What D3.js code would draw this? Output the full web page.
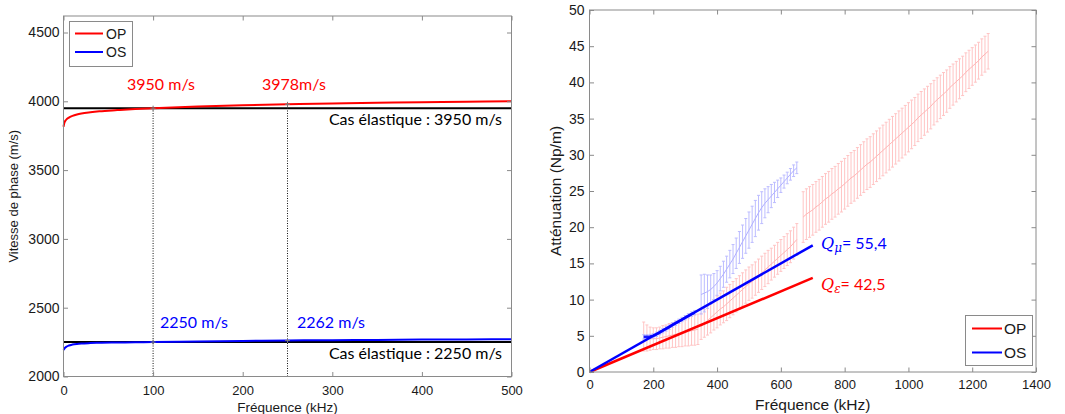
<!DOCTYPE html>
<html><head><meta charset="utf-8">
<script src="https://cdn.jsdelivr.net/npm/d3@7"></script>
<style>body{margin:0;background:#fff} svg{display:block}</style>
</head><body>
<svg id="c" width="1065" height="414"></svg>
<script>
// ---------- Left chart data (phase velocity) ----------
const velFreq = [0,1,3,6,10,15,20,30,40,60,80,100,150,200,250,300,350,400,450,500];
const velOP   = [3815,3845,3866,3882,3894,3904,3911,3920,3927,3936,3944,3950,3962,3971,3978,3984,3989,3993,3997,4000];
const velOS   = [2192,2203,2215,2225,2232,2237,2240,2243,2245,2247,2249,2250,2254,2258,2262,2264,2266,2268,2269,2271];
const elasticVals = [3950, 2250];
const elasticLabels = ["Cas élastique : 3950 m/s", "Cas élastique : 2250 m/s"];
const markFreq = [100, 250];
const markOP = [3950, 3978];
const markOS = [2250, 2262];
const markOPLabels = ["3950 m/s", "3978m/s"];
const markOSLabels = ["2250 m/s", "2262 m/s"];
const leftXTicks = [0,100,200,300,400,500];
const leftYTicks = [2000,2500,3000,3500,4000,4500];
const seriesNames = ["OP","OS"];

// ---------- Right chart data (attenuation) ----------
const opF1 = [170,180,190,200,210,220,230,240,250,260,270,280,290,300,310,320,330,340];
const opM1 = [4.9,4.7,4.6,4.6,4.6,4.7,4.8,4.9,5.0,5.1,5.2,5.3,5.4,5.5,5.6,5.7,5.8,5.9];
const opE1 = [2.0,1.8,1.6,1.5,1.5,1.5,1.6,1.6,1.7,1.7,1.8,1.8,1.9,1.9,2.0,2.0,2.1,2.1];
const opF2 = [350,360,370,380,390,400,410,420,430,440,450,460,470,480,490,500,510,520,530,540,550,560,570,580,590,600,610,620,630,640,650];
const opM2 = [6.3,6.7,7.1,7.5,7.9,8.3,8.7,9.0,9.4,9.8,10.2,10.6,11.0,11.4,11.8,12.2,12.5,12.9,13.3,13.7,14.1,14.5,14.9,15.3,15.7,16.1,16.5,16.9,17.3,17.8,18.3];
const opE2 = [1.8,1.9,2.0,2.1,2.1,2.2,2.2,2.2,2.3,2.3,2.3,2.3,2.3,2.3,2.3,2.3,2.3,2.3,2.3,2.3,2.3,2.3,2.2,2.2,2.2,2.2,2.2,2.2,2.2,2.2,2.2];
const opF3 = [670,680,690,700,710,720,730,740,750,760,770,780,790,800,810,820,830,840,850,860,870,880,890,900,910,920,930,940,950,960,970,980,990,1000,1010,1020,1030,1040,1050,1060,1070,1080,1090,1100,1110,1120,1130,1140,1150,1160,1170,1180,1190,1200,1210,1220,1230,1240,1250];
const opM3 = [21.4,21.8,22.1,22.4,22.8,23.1,23.5,23.9,24.2,24.6,24.9,25.3,25.6,26.0,26.4,26.8,27.1,27.5,27.9,28.3,28.7,29.0,29.4,29.8,30.2,30.6,31.0,31.4,31.8,32.2,32.6,33.0,33.4,33.8,34.2,34.6,35.1,35.5,35.9,36.3,36.7,37.2,37.6,38.0,38.4,38.8,39.3,39.7,40.1,40.5,40.9,41.4,41.8,42.2,42.6,43.0,43.5,43.9,44.3];
const opE3 = [3.5,3.5,3.5,3.5,3.5,3.5,3.5,3.5,3.5,3.5,3.5,3.5,3.5,3.5,3.5,3.5,3.5,3.5,3.5,3.5,3.5,3.5,3.5,3.5,3.5,3.5,3.5,3.5,3.5,3.48,3.46,3.44,3.42,3.4,3.36,3.32,3.28,3.24,3.2,3.16,3.12,3.08,3.04,3.0,2.96,2.92,2.88,2.84,2.8,2.76,2.72,2.68,2.64,2.6,2.57,2.54,2.51,2.48,2.45];
const osF1 = [170,180,190,200,210,220,230,240,250,260,270,280,290,300,310,320,330];
const osM1 = [4.85,4.85,4.9,5.0,5.2,5.45,5.7,5.95,6.2,6.5,6.75,7.0,7.25,7.5,7.75,8.0,8.2];
const osE1 = [0.3,0.3,0.3,0.3,0.3,0.3,0.3,0.3,0.3,0.3,0.3,0.3,0.3,0.3,0.3,0.3,0.3];
const osF2 = [350,360,370,380,390,400,410,420,430,440,450,460,470,480,490,500,510,520,530,540,550,560,570,580,590,600,610,620,630,640,650];
const osM2 = [10.7,10.9,11.1,11.4,11.8,12.3,12.9,13.5,14.2,14.9,15.6,16.4,17.2,18.0,18.8,19.6,20.4,21.2,22.0,22.7,23.3,23.8,24.3,24.8,25.3,25.8,26.3,26.8,27.3,27.8,28.2];
const osE2 = [2.7,2.6,2.3,2.0,1.8,1.7,1.7,1.8,1.8,1.9,2.0,2.1,2.2,2.3,2.4,2.5,2.5,2.5,2.4,2.2,2.0,1.8,1.6,1.4,1.2,1.0,0.9,0.8,0.8,0.8,0.8];
const fitF = [0, 700];
const fitOP = [0, 13.0];
const fitOS = [0, 17.5];
const qLabels = [{q:"ε", val:"= 42,5"}, {q:"μ", val:"= 55,4"}];
const rightXTicks = [0,200,400,600,800,1000,1200,1400];
const rightYTicks = [0,5,10,15,20,25,30,35,40,45,50];

const RED = "#ff0000", BLUE = "#0000ff", AX = "#8a8a8a";
const svg = d3.select("#c");
const tickFont = "'Liberation Sans', Arial, sans-serif";
const annoFont = "Lato, 'Open Sans', sans-serif";
const fmt = d3.format("d");

function frame(g, x, y, xt, yt, xPad, yPad, xFs, yFs) {
  const [x0,x1] = x.range(), [y1,y0] = y.range();
  const bx = g.append("g").attr("transform",`translate(0,${y1})`)
    .call(d3.axisBottom(x).tickValues(xt).tickFormat(fmt).tickSize(-4.5).tickSizeOuter(0).tickPadding(xPad));
  const tx = g.append("g").attr("transform",`translate(0,${y0})`)
    .call(d3.axisTop(x).tickValues(xt).tickSize(-4.5).tickSizeOuter(0).tickFormat(""));
  const ly = g.append("g").attr("transform",`translate(${x0},0)`)
    .call(d3.axisLeft(y).tickValues(yt).tickFormat(fmt).tickSize(-4.5).tickSizeOuter(0).tickPadding(yPad));
  const ry = g.append("g").attr("transform",`translate(${x1},0)`)
    .call(d3.axisRight(y).tickValues(yt).tickSize(-4.5).tickSizeOuter(0).tickFormat(""));
  [bx,tx,ly,ry].forEach(a => {
    a.attr("font-family", tickFont);
    a.selectAll("path.domain").remove();
    a.selectAll("line").attr("stroke", AX);
    a.selectAll("text").attr("fill","#1a1a1a");
  });
  bx.attr("font-size", xFs);
  ly.attr("font-size", yFs);
  g.append("rect").attr("x",x0).attr("y",y0).attr("width",x1-x0).attr("height",y1-y0)
    .attr("fill","none").attr("stroke",AX).attr("stroke-width",1);
}

// ================= LEFT CHART =================
{
  const x = d3.scaleLinear().domain([0,500]).range([63.5,511.5]);
  const y = d3.scaleLinear().domain([2000,4620]).range([376.5,16]);
  const g = svg.append("g");
  const line = d3.line().x((d,i)=>x(velFreq[i])).y(d=>y(d)).curve(d3.curveMonotoneX);

  elasticVals.forEach(v => {
    g.append("line").attr("x1",x(0)).attr("x2",x(500)).attr("y1",y(v)).attr("y2",y(v))
      .attr("stroke","#000").attr("stroke-width",2);
  });
  markFreq.forEach((f,i) => {
    g.append("line").attr("x1",x(f)).attr("x2",x(f)).attr("y1",y(2000)).attr("y2",y(markOP[i]))
      .attr("stroke","#111").attr("stroke-width",1).attr("stroke-dasharray","1,1.5");
  });
  g.append("path").attr("d",line(velOP)).attr("fill","none").attr("stroke",RED).attr("stroke-width",2);
  g.append("path").attr("d",line(velOS)).attr("fill","none").attr("stroke",BLUE).attr("stroke-width",2);
  const marks = [];
  markFreq.forEach((f,i)=>{ marks.push([f,markOP[i]]); marks.push([f,markOS[i]]); });
  marks.forEach(([f,v])=>{
    g.append("path").attr("d",`M${x(f)-2.5},${y(v)}h5M${x(f)},${y(v)-2.5}v5`)
      .attr("stroke","#777").attr("stroke-width",1);
  });
  frame(g, x, y, leftXTicks, leftYTicks, 9, 4, "13px", "14px");

  const opLabelX = [127, 262], osLabelX = [160, 297];
  markOPLabels.forEach((t,i)=> g.append("text").attr("x",opLabelX[i]).attr("y",90)
    .attr("fill",RED).attr("font-family",annoFont).attr("font-size","16px").text(t));
  markOSLabels.forEach((t,i)=> g.append("text").attr("x",osLabelX[i]).attr("y",328)
    .attr("fill",BLUE).attr("font-family",annoFont).attr("font-size","16px").text(t));
  const elY = [124.5, 358.5];
  elasticLabels.forEach((t,i)=> g.append("text").attr("x",502).attr("y",elY[i]).attr("text-anchor","end")
    .attr("fill","#000").attr("font-family",annoFont).attr("font-size","16px").text(t));

  g.append("text").attr("x",x(250)).attr("y",412).attr("text-anchor","middle")
    .attr("font-family",tickFont).attr("font-size","13.5px").attr("fill","#1a1a1a").text("Fréquence (kHz)");
  g.append("text").attr("transform",`translate(18,${(16+376.5)/2}) rotate(-90)`).attr("text-anchor","middle")
    .attr("font-family",tickFont).attr("font-size","13px").attr("fill","#1a1a1a").text("Vitesse de phase (m/s)");

  g.append("rect").attr("x",69.5).attr("y",21.5).attr("width",63).attr("height",45)
    .attr("fill","#fff").attr("stroke",AX);
  [RED,BLUE].forEach((c,i)=>{
    const yy = 33.5 + i*18.5;
    g.append("line").attr("x1",75).attr("x2",103).attr("y1",yy).attr("y2",yy).attr("stroke",c).attr("stroke-width",2);
    g.append("text").attr("x",106).attr("y",yy+5).attr("font-family",tickFont).attr("font-size","14px")
      .attr("fill","#1a1a1a").text(seriesNames[i]);
  });
}

// ================= RIGHT CHART =================
{
  const x = d3.scaleLinear().domain([0,1400]).range([589.5,1036]);
  const y = d3.scaleLinear().domain([0,50]).range([372,10]);
  const g = svg.append("g");

  function errSeg(F, M, E, barCol, lineCol, lineW) {
    const sg = g.append("g");
    F.forEach((f,i)=>{
      const xx = x(f), yt = y(M[i]+E[i]), yb = y(M[i]-E[i]);
      sg.append("line").attr("x1",xx).attr("x2",xx).attr("y1",yt).attr("y2",yb)
        .attr("stroke",barCol).attr("stroke-width",1);
      sg.append("line").attr("x1",xx-1.5).attr("x2",xx+1.5).attr("y1",yt).attr("y2",yt)
        .attr("stroke",barCol).attr("stroke-width",1);
      sg.append("line").attr("x1",xx-1.5).attr("x2",xx+1.5).attr("y1",yb).attr("y2",yb)
        .attr("stroke",barCol).attr("stroke-width",1);
    });
    const ln = d3.line().x((d,i)=>x(F[i])).y(d=>y(d));
    sg.append("path").attr("d",ln(M)).attr("fill","none").attr("stroke",lineCol).attr("stroke-width",lineW);
  }
  const pinkBar = "#ffc4c4", pinkLine = "#ffb4b4";
  const lbBar = "#bcbcff", lbLine = "#b0b0ff";
  errSeg(opF1, opM1, opE1, pinkBar, pinkLine, 1);
  errSeg(opF2, opM2, opE2, pinkBar, pinkLine, 1);
  errSeg(opF3, opM3, opE3, pinkBar, pinkLine, 1);
  errSeg(osF2, osM2, osE2, lbBar, lbLine, 1);
  errSeg(osF1, osM1, osE1, lbBar, "#1a1aff", 2.6);

  const fl = d3.line().x((d,i)=>x(fitF[i])).y(d=>y(d));
  g.append("path").attr("d",fl(fitOP)).attr("fill","none").attr("stroke",RED).attr("stroke-width",2.5);
  g.append("path").attr("d",fl(fitOS)).attr("fill","none").attr("stroke",BLUE).attr("stroke-width",2.5);

  frame(g, x, y, rightXTicks, rightYTicks, 8, 5, "13px", "14px");

  const qCol = [RED, BLUE], qY = [289.5, 248.5];
  qLabels.forEach((q,i)=>{
    const t = g.append("text").attr("x",821).attr("y",qY[i]).attr("fill",qCol[i]);
    t.append("tspan").attr("font-family","'DejaVu Serif', serif").attr("font-style","italic").attr("font-size","16px").text("Q");
    t.append("tspan").attr("font-family","'DejaVu Serif', serif").attr("font-style","italic").attr("font-size","12px").attr("dy",3).text(q.q);
    t.append("tspan").attr("font-family",annoFont).attr("font-size","16px").attr("dy",-3).text(q.val);
  });

  g.append("text").attr("x",x(700)).attr("y",410).attr("text-anchor","middle")
    .attr("font-family",tickFont).attr("font-size","15.5px").attr("fill","#1a1a1a").text("Fréquence (kHz)");
  g.append("text").attr("transform",`translate(561,${(10+372)/2}) rotate(-90)`).attr("text-anchor","middle")
    .attr("font-family",tickFont).attr("font-size","15.5px").attr("fill","#1a1a1a").text("Atténuation (Np/m)");

  g.append("rect").attr("x",965.5).attr("y",315.5).attr("width",67).attr("height",50)
    .attr("fill","#fff").attr("stroke",AX);
  [RED,BLUE].forEach((c,i)=>{
    const yy = 328.5 + i*24;
    g.append("line").attr("x1",972).attr("x2",1002).attr("y1",yy).attr("y2",yy).attr("stroke",c).attr("stroke-width",2);
    g.append("text").attr("x",1004).attr("y",yy+5.5).attr("font-family",tickFont).attr("font-size","15.5px")
      .attr("fill","#1a1a1a").text(seriesNames[i]);
  });
}
</script>
</body></html>
